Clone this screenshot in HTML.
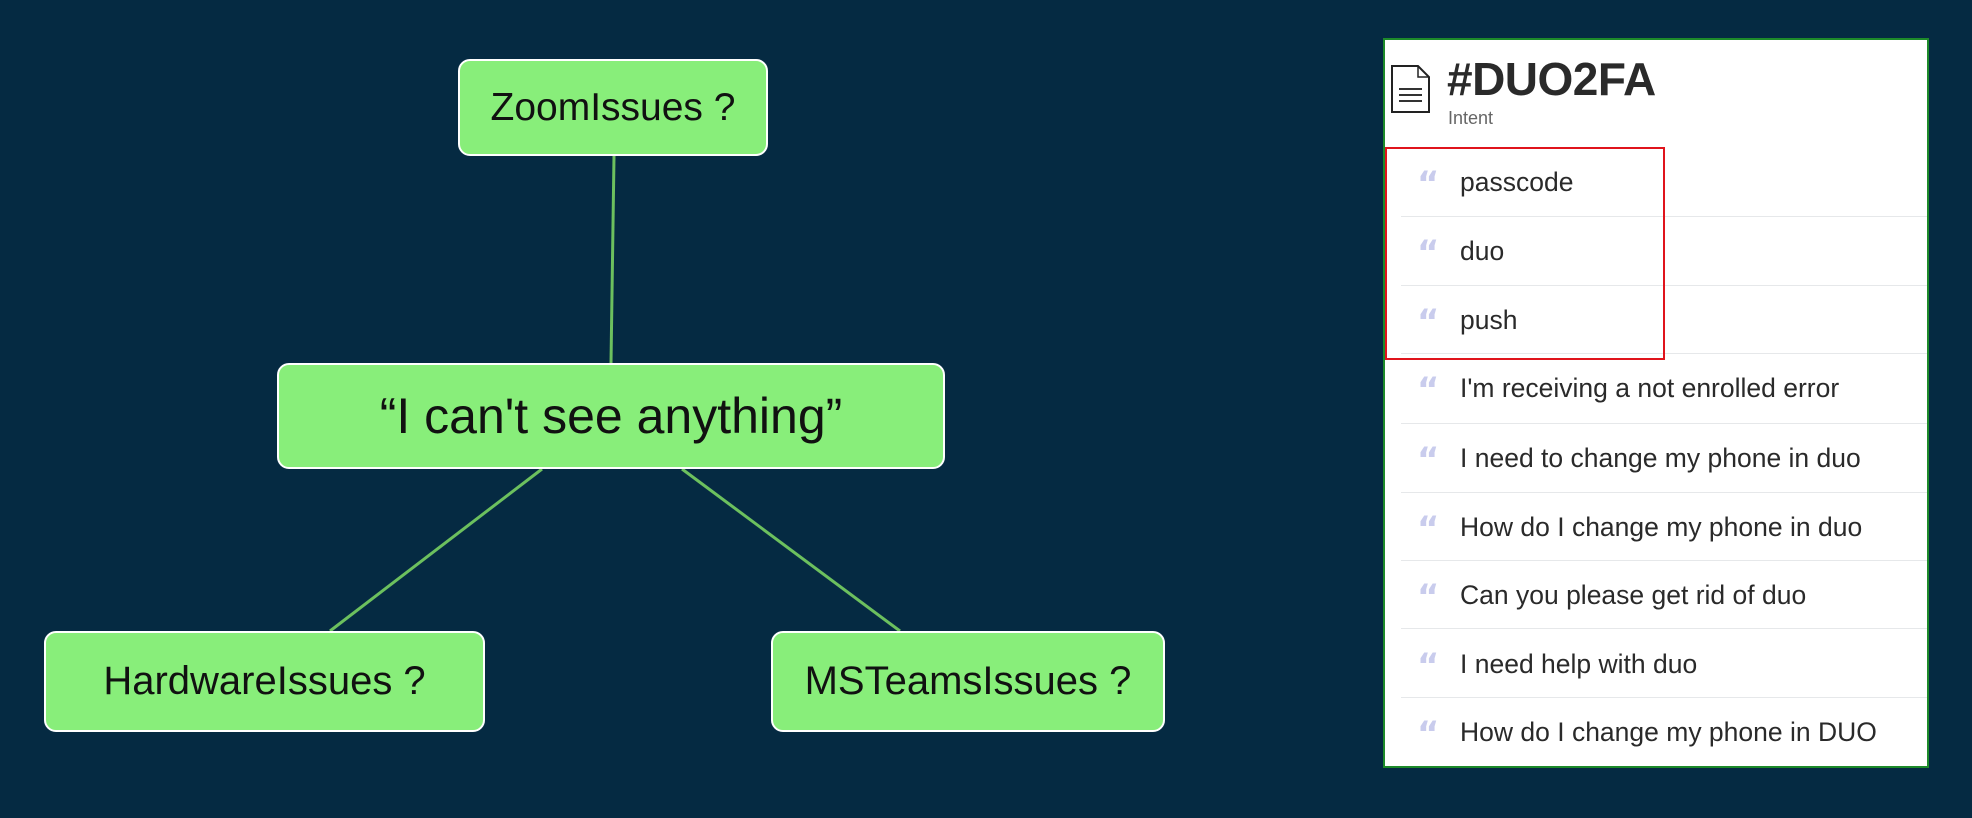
<!DOCTYPE html>
<html><head><style>
body{margin:0;width:1972px;height:818px;background:#052a42;position:relative;overflow:hidden;font-family:"Liberation Sans",sans-serif}
.n{position:absolute;background:#88ee7a;border:2px solid #fff;border-radius:12px;box-sizing:border-box;display:flex;align-items:center;justify-content:center;color:#111;}
#panel{position:absolute;left:1383px;top:38px;width:546px;height:730px;background:#fff;border:2px solid #1d8a2a;box-sizing:border-box}
.row{position:absolute;left:0;width:100%;height:20px}
.q{position:absolute;left:32px;top:-4px;color:#c9cced;font-family:"DejaVu Sans",sans-serif;font-weight:bold;font-size:34px;line-height:40px}
.t{position:absolute;left:75px;top:-1px;font-size:26.5px;color:#2a2a2a}
.d{position:absolute;left:16px;right:0;height:1px;background:#e6e8ea}
</style></head><body>
<svg width="1972" height="818" style="position:absolute;left:0;top:0">
<g stroke="#6cc05e" stroke-width="3">
<line x1="614" y1="156" x2="611" y2="363"/>
<line x1="542" y1="469" x2="330" y2="631"/>
<line x1="682" y1="469" x2="900" y2="631"/>
</g></svg>
<div class="n" style="left:458px;top:59px;width:310px;height:97px;font-size:39px">ZoomIssues ?</div>
<div class="n" style="left:277px;top:363px;width:668px;height:106px;font-size:50px">“I can't see anything”</div>
<div class="n" style="left:44px;top:631px;width:441px;height:101px;font-size:40px">HardwareIssues ?</div>
<div class="n" style="left:771px;top:631px;width:394px;height:101px;font-size:40px">MSTeamsIssues ?</div>
<div id="panel">
<svg style="position:absolute;left:6px;top:25px" width="40" height="48"><path d="M1 1H27L38 12V47H1Z" fill="#fff" stroke="#222" stroke-width="2"/><path d="M27 1V12H38" fill="none" stroke="#222" stroke-width="1.5"/><g stroke="#333" stroke-width="2"><line x1="8" y1="24" x2="31" y2="24"/><line x1="8" y1="30" x2="31" y2="30"/><line x1="8" y1="36" x2="31" y2="36"/></g></svg>
<div style="position:absolute;left:62px;top:12px;font-size:46px;font-weight:bold;color:#2a2a2a;letter-spacing:-0.5px">#DUO2FA</div>
<div style="position:absolute;left:63px;top:68px;font-size:18px;color:#666">Intent</div>
<div style="position:absolute;left:0;top:107px;width:280px;height:213px;border:2px solid #e0141c;box-sizing:border-box;z-index:2"></div>
<div class="row" style="top:128px"><span class="q">“</span><span class="t">passcode</span></div><div class="d" style="top:176px"></div>
<div class="row" style="top:197px"><span class="q">“</span><span class="t">duo</span></div><div class="d" style="top:245px"></div>
<div class="row" style="top:266px"><span class="q">“</span><span class="t">push</span></div><div class="d" style="top:313px"></div>
<div class="row" style="top:334px"><span class="q">“</span><span class="t">I'm receiving a not enrolled error</span></div><div class="d" style="top:383px"></div>
<div class="row" style="top:404px"><span class="q">“</span><span class="t">I need to change my phone in duo</span></div><div class="d" style="top:452px"></div>
<div class="row" style="top:473px"><span class="q">“</span><span class="t">How do I change my phone in duo</span></div><div class="d" style="top:520px"></div>
<div class="row" style="top:541px"><span class="q">“</span><span class="t">Can you please get rid of duo</span></div><div class="d" style="top:588px"></div>
<div class="row" style="top:610px"><span class="q">“</span><span class="t">I need help with duo</span></div><div class="d" style="top:657px"></div>
<div class="row" style="top:678px"><span class="q">“</span><span class="t">How do I change my phone in DUO</span></div>
</div>
</body></html>
